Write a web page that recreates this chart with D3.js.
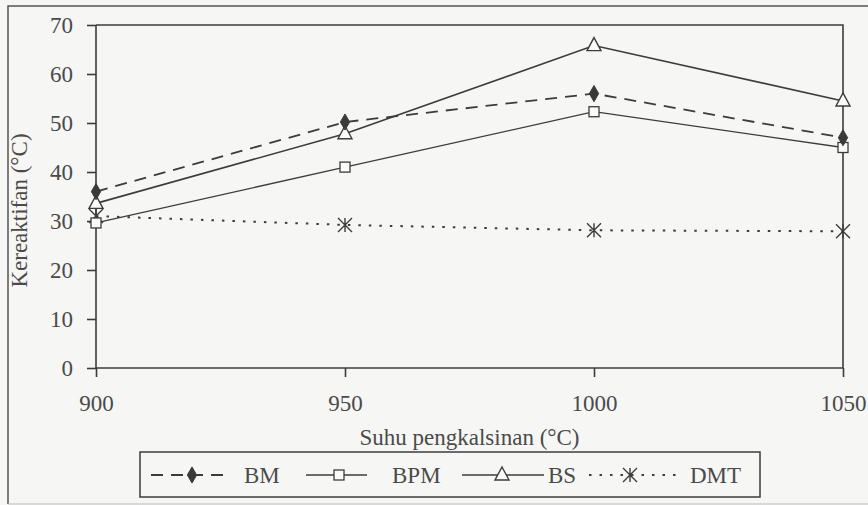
<!DOCTYPE html>
<html><head><meta charset="utf-8">
<script src="https://cdn.jsdelivr.net/npm/d3@7"></script>
<style>
html,body{margin:0;padding:0;background:#f6f6f4;}
svg{display:block;}
svg text{font-family:"Liberation Serif","Times New Roman",Times,"DejaVu Serif",serif !important;fill:#4a4a4a;}
</style></head>
<body>
<svg id="c" width="868" height="505"></svg>
<script>
const temps = [900, 950, 1000, 1050];
const xTicks = [900, 950, 1000, 1050];
const yTicks = [0, 10, 20, 30, 40, 50, 60, 70];
const seriesNames = ["BM", "BPM", "BS", "DMT"];
const bm  = [36, 50.2, 56, 47];
const bpm = [29.6, 41, 52.3, 45];
const bs  = [33.6, 47.8, 65.8, 54.5];
const dmt = [31, 29.2, 28.1, 27.9];

const FONT = '"Liberation Serif","Times New Roman",Times,serif';
const ink = "#3c3c3c";
const svg = d3.select("#c");
const L = 96, R = 843, T = 25, B = 368;
const x = d3.scaleLinear().domain([900, 1050]).range([L, R]);
const y = d3.scaleLinear().domain([0, 70]).range([B, T]);

// outer frame
svg.append("path").attr("d","M8,504 L8,6 L868,6").attr("fill","none").attr("stroke","#555").attr("stroke-width",1.5);
svg.append("line").attr("x1",8).attr("x2",868).attr("y1",504).attr("y2",504).attr("stroke","#bbb").attr("stroke-width",1);

// plot top/right border
svg.append("path").attr("d",`M${L},${T} L${R},${T} L${R},${B}`).attr("fill","none").attr("stroke",ink).attr("stroke-width",1.6);

// axes
const yAxis = d3.axisLeft(y).tickValues(yTicks).tickSize(9).tickPadding(14).tickFormat(d3.format("d"));
const gy = svg.append("g").attr("transform",`translate(${L},0)`).call(yAxis);
const xAxis = d3.axisBottom(x).tickValues(xTicks).tickSize(9).tickPadding(18).tickFormat(d3.format("d"));
const gx = svg.append("g").attr("transform",`translate(0,${B})`).call(xAxis);
[gx, gy].forEach(g => {
  g.attr("font-family", FONT).attr("font-size", 23);
  g.select(".domain").attr("stroke",ink).attr("stroke-width",1.6);
  g.selectAll(".tick line").attr("stroke",ink).attr("stroke-width",1.6);
  g.selectAll(".tick text").attr("font-family",FONT).attr("font-size",23).attr("fill","#4a4a4a");
});
gy.select(".domain").attr("d",`M0,${B}V${T}`);
gx.select(".domain").attr("d",`M${L},0H${R}`);
gx.selectAll(".tick line").attr("y1",0).attr("y2",9);

// axis titles
svg.append("text").attr("x",(L+R)/2).attr("y",445).attr("text-anchor","middle").attr("font-family",FONT).attr("font-size",23).text("Suhu pengkalsinan (°C)");
svg.append("text").attr("transform",`translate(27,${(T+B)/2+14}) rotate(-90)`).attr("text-anchor","middle").attr("font-family",FONT).attr("font-size",23).text("Kereaktifan (°C)");

const styles = {
  BM:  {dash:"12,8", w:1.8, data:bm},
  BPM: {dash:null, w:1.3, data:bpm},
  BS:  {dash:null, w:1.6, data:bs},
  DMT: {dash:"2.5,8", w:2, data:dmt}
};
const line = d3.line().x((d,i)=>x(temps[i])).y(d=>y(d));

function marker(g, name, cx, cy){
  if(name==="BM"){
    g.append("path").attr("d",d3.symbol(d3.symbolDiamond,75)()).attr("transform",`translate(${cx},${cy})`).attr("fill","#3a3a3a").attr("stroke","#3a3a3a").attr("stroke-width",1);
  } else if(name==="BPM"){
    g.append("rect").attr("x",cx-5).attr("y",cy-5).attr("width",10).attr("height",10).attr("fill","#fbfbfb").attr("stroke",ink).attr("stroke-width",1.3);
  } else if(name==="BS"){
    g.append("path").attr("d",`M${cx},${cy-8} L${cx+7},${cy+5} L${cx-7},${cy+5} Z`).attr("fill","#fbfbfb").attr("stroke",ink).attr("stroke-width",1.4);
  } else {
    const s=7;
    g.append("path").attr("d",`M${cx-s},${cy-s}L${cx+s},${cy+s}M${cx+s},${cy-s}L${cx-s},${cy+s}M${cx},${cy-s}L${cx},${cy+s}`).attr("stroke",ink).attr("stroke-width",1.4).attr("fill","none");
  }
}

const lines = svg.append("g");
seriesNames.slice().reverse().forEach(n=>{
  const st = styles[n];
  lines.append("path").datum(st.data).attr("d",line).attr("fill","none").attr("stroke",ink).attr("stroke-width",st.w).attr("stroke-dasharray",st.dash);
});
const marks = svg.append("g");
["DMT","BPM","BS","BM"].forEach(n=>{
  styles[n].data.forEach((v,i)=>marker(marks,n,x(temps[i]),y(v)));
});

// legend
const lg = svg.append("g");
lg.append("rect").attr("x",140).attr("y",452).attr("width",620).attr("height",45).attr("fill","none").attr("stroke",ink).attr("stroke-width",1.5);
const ly = 475;
const legendItems = [
  {n:"BM", x1:151, x2:229, mx:192, tx:244},
  {n:"BPM", x1:306, x2:367, mx:339, tx:392},
  {n:"BS", x1:462, x2:544, mx:502, tx:548},
  {n:"DMT", x1:589, x2:676, mx:630, tx:690}
];
legendItems.forEach(it=>{
  const st = styles[it.n];
  lg.append("line").attr("x1",it.x1).attr("x2",it.x2).attr("y1",ly).attr("y2",ly).attr("stroke",ink).attr("stroke-width",st.w).attr("stroke-dasharray",st.dash);
  marker(lg,it.n,it.mx,ly);
  lg.append("text").attr("x",it.tx).attr("y",ly+8).attr("font-family",FONT).attr("font-size",23).text(it.n);
});
</script>
</body></html>
